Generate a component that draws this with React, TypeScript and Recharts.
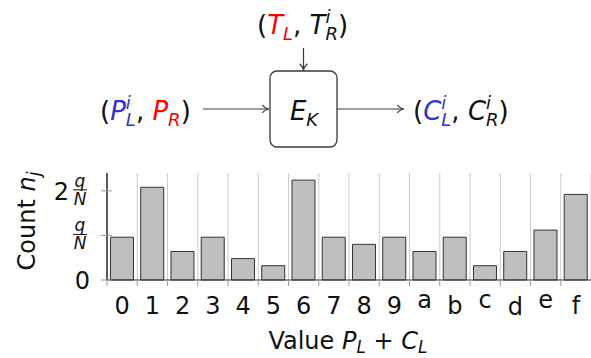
import { BarChart, Bar, XAxis, YAxis, CartesianGrid } from "recharts";

// hex digit values on the x axis
const categories = ["0", "1", "2", "3", "4", "5", "6", "7", "8", "9", "a", "b", "c", "d", "e", "f"];
// count n_j for each value (q = 100 samples, N = 16 values)
const counts = [6, 13, 4, 6, 3, 2, 14, 6, 5, 6, 4, 6, 2, 4, 7, 12];
const q = 100;
const N = 16;
// y ticks: 0, q/N, 2q/N
const tickMultipliers = [0, 1, 2];
const yTicks = tickMultipliers.map((m) => (m * q) / N);
const yMax = 15;

const data = categories.map((c, i) => ({ name: c, count: counts[i] }));

const FONT = "DejaVu Sans";
const BLUE = "#3333cc";
const RED = "#ff0000";
const LINE = "#3a3a3a";

function XTick(props: any) {
  const { x, y, payload } = props;
  const half = payload && payload.offset ? payload.offset : 15.125;
  const label: string = payload.value;
  // x-height glyphs sit higher since labels are top aligned
  let shift = 0;
  if ("ace".includes(label)) shift = -6;
  if (label === "d") shift = 1;
  return (
    <g>
      <line x1={x - half} x2={x - half} y1={y} y2={y + 6} stroke="#9a9a9a" strokeWidth={1} />
      <text x={x} y={y + 34 + shift} textAnchor="middle" fontFamily={FONT} fontSize={24} fill="#111">
        {label}
      </text>
    </g>
  );
}

function YTick(props: any) {
  const { x, y, index } = props;
  const m = tickMultipliers[index];
  return (
    <g>
      <line x1={x - 6} x2={x + 5} y1={y} y2={y} stroke="#9a9a9a" strokeWidth={1} />
      {m === 0 ? (
        <text x={x - 17} y={y + 9} textAnchor="end" fontFamily={FONT} fontSize={24} fill="#111">
          0
        </text>
      ) : (
        <g fontFamily={FONT} fill="#111">
          {m > 1 && (
            <text x={x - 38} y={y + 9} textAnchor="end" fontSize={24}>
              {m}
            </text>
          )}
          <text x={x - 27} y={y - 4} textAnchor="middle" fontSize={17} fontStyle="italic">
            q
          </text>
          <line x1={x - 34} x2={x - 20} y1={y - 1} y2={y - 1} stroke="#111" strokeWidth={1} />
          <text x={x - 27} y={y + 14} textAnchor="middle" fontSize={17} fontStyle="italic">
            N
          </text>
        </g>
      )}
    </g>
  );
}

function Diagram() {
  const fs = 26;
  const small = 18;
  return (
    <svg
      width={591}
      height={358}
      style={{ position: "absolute", left: 0, top: 0, pointerEvents: "none" }}
    >
      <defs>
        <marker id="tip" viewBox="0 0 10 10" refX="9" refY="5" markerWidth="8" markerHeight="8" orient="auto">
          <path d="M2,1 Q6,5 9,5 Q6,5 2,9" fill="none" stroke={LINE} strokeWidth={1.3} />
        </marker>
      </defs>
      <g fontFamily={FONT} fontSize={fs} fill="#111">
        {/* tweak input */}
        <text x={257} y={34}>
          <tspan>(</tspan>
          <tspan fill={RED} fontStyle="italic">T</tspan>
          <tspan fill={RED} fontStyle="italic" fontSize={small} dy={6}>L</tspan>
          <tspan dy={-6}>, </tspan>
          <tspan fontStyle="italic">T</tspan>
          <tspan fontStyle="italic" fontSize={small} dy={-11}>i</tspan>
          <tspan fontStyle="italic" fontSize={small} dx={-5} dy={17}>R</tspan>
          <tspan dy={-6}>)</tspan>
        </text>
        {/* plaintext */}
        <text x={100} y={119.5}>
          <tspan>(</tspan>
          <tspan fill={BLUE} fontStyle="italic">P</tspan>
          <tspan fill={BLUE} fontStyle="italic" fontSize={small} dy={-11}>i</tspan>
          <tspan fill={BLUE} fontStyle="italic" fontSize={small} dx={-5} dy={17}>L</tspan>
          <tspan dy={-6}>, </tspan>
          <tspan fill={RED} fontStyle="italic">P</tspan>
          <tspan fill={RED} fontStyle="italic" fontSize={small} dy={6}>R</tspan>
          <tspan dy={-6}>)</tspan>
        </text>
        {/* ciphertext */}
        <text x={413} y={119.5}>
          <tspan>(</tspan>
          <tspan fill={BLUE} fontStyle="italic">C</tspan>
          <tspan fill={BLUE} fontStyle="italic" fontSize={small} dy={-11}>i</tspan>
          <tspan fill={BLUE} fontStyle="italic" fontSize={small} dx={-5} dy={17}>L</tspan>
          <tspan dy={-6}>, </tspan>
          <tspan fontStyle="italic">C</tspan>
          <tspan fontStyle="italic" fontSize={small} dy={-11}>i</tspan>
          <tspan fontStyle="italic" fontSize={small} dx={-5} dy={17}>R</tspan>
          <tspan dy={-6}>)</tspan>
        </text>
        <text x={304} y={119.5} textAnchor="middle">
          <tspan fontStyle="italic">E</tspan>
          <tspan fontStyle="italic" fontSize={small} dy={6}>K</tspan>
        </text>
      </g>
      <rect x={270} y={71} width={67} height={76} rx={7} fill="none" stroke={LINE} strokeWidth={1.3} />
      <line x1={203} y1={109} x2={269} y2={109} stroke={LINE} strokeWidth={1.2} markerEnd="url(#tip)" />
      <line x1={337} y1={109} x2={404} y2={109} stroke={LINE} strokeWidth={1.2} markerEnd="url(#tip)" />
      <line x1={303.5} y1={48} x2={303.5} y2={70.5} stroke={LINE} strokeWidth={1.2} markerEnd="url(#tip)" />

      {/* axis titles */}
      <g fontFamily={FONT} fontSize={24} fill="#111">
        <text transform="translate(35,221) rotate(-90)" textAnchor="middle">
          <tspan>Count </tspan>
          <tspan fontStyle="italic">n</tspan>
          <tspan fontStyle="italic" fontSize={17} dy={5}>j</tspan>
        </text>
        <text x={348} y={349} textAnchor="middle">
          <tspan>Value </tspan>
          <tspan fontStyle="italic">P</tspan>
          <tspan fontStyle="italic" fontSize={17} dy={4}>L</tspan>
          <tspan dy={-4}> + </tspan>
          <tspan fontStyle="italic">C</tspan>
          <tspan fontStyle="italic" fontSize={17} dy={4}>L</tspan>
        </text>
      </g>
    </svg>
  );
}

export default function App() {
  return (
    <div style={{ position: "absolute", left: 0, top: 0, width: 591, height: 358, background: "#fff" }}>
      <BarChart
        width={591}
        height={358}
        data={data}
        margin={{ top: 173, right: 0, left: 0, bottom: 48 }}
        barCategoryGap="11.5%"
      >
        <CartesianGrid
          horizontal={false}
          stroke="#cccccc"
          strokeWidth={1}
          verticalCoordinatesGenerator={({ offset }: any) =>
            categories.map((_, i) => offset.left + (i * offset.width) / categories.length).concat(offset.left + offset.width)
          }
        />
        <XAxis
          dataKey="name"
          height={30}
          interval={0}
          tickLine={false}
          tickSize={0}
          tickMargin={0}
          axisLine={{ stroke: "#333", strokeWidth: 1.2 }}
          tick={<XTick />}
        />
        <YAxis
          width={107}
          domain={[0, yMax]}
          ticks={yTicks}
          tickLine={false}
          tickSize={0}
          tickMargin={0}
          axisLine={{ stroke: "#111", strokeWidth: 1.3 }}
          tick={<YTick />}
        />
        <Bar dataKey="count" fill="#bfbfbf" stroke="#333" strokeWidth={1} isAnimationActive={false} />
      </BarChart>
      <Diagram />
    </div>
  );
}
